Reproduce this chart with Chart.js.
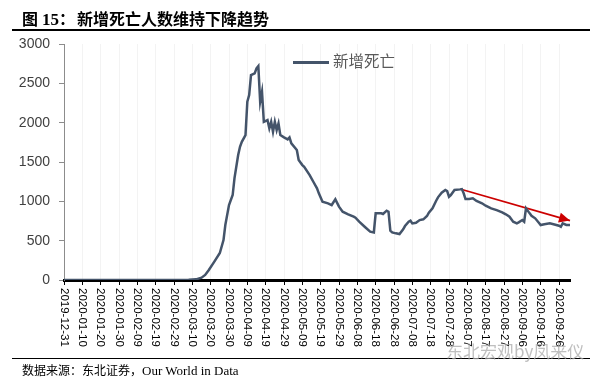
<!DOCTYPE html>
<html>
<head>
<meta charset="utf-8">
<script src="https://cdn.jsdelivr.net/npm/chart.js@4.4.1/dist/chart.umd.min.js"></script>
<style>
    body { margin: 0; background: #fff; }
    #wrap { position: relative; width: 599px; height: 383px; overflow: hidden; font-family: "Noto Sans CJK SC", sans-serif; }
    #chart { position: absolute; left: 0; top: 0; }
    .abs { position: absolute; white-space: nowrap; }
    .title { top: 9px; font-size: 16px; line-height: 18px; font-weight: 700; color: #000; }
    .title-num { font-family: "Liberation Serif", serif; font-size: 17px; }
    .rule { position: absolute; left: 12px; width: 578px; background: #000; }
    .legend { left: 293px; top: 51px; font-size: 15.5px; line-height: 18px; color: #595959; }
    .legend-line { display: inline-block; width: 36px; height: 3px; background: #44546A; vertical-align: middle; margin-right: 4px; }
    .footer { left: 22px; top: 362px; font-size: 12px; line-height: 15px; color: #000; }
    .footer .latin { font-family: "Liberation Serif", serif; font-size: 13px; }
    .mark { left: 446px; top: 341px; font-size: 17px; line-height: 20px; color: rgba(170, 170, 170, 0.75); }
</style>
</head>
<body>
<div id="wrap">
    <canvas id="chart" width="599" height="383"></canvas>
    <div class="abs title" style="left:22px">图</div>
    <div class="abs title" style="left:42px"><span class="title-num">15</span>：</div>
    <div class="abs title" style="left:77px">新增死亡人数维持下降趋势</div>
    <div class="rule" style="top:29px;height:1.5px"></div>
    <div class="abs legend" id="legend"></div>
    <div class="rule" style="top:358px;height:1px"></div>
    <div class="abs footer">数据来源：东北证券，<span class="latin">Our World in Data</span></div>
    <div class="abs mark">东北宏观by凤来仪</div>
</div>
<script>
// Axis labels (every 10 days)
const tickLabels = ['2019-12-31', '2020-01-10', '2020-01-20', '2020-01-30', '2020-02-09', '2020-02-19',
    '2020-02-29', '2020-03-10', '2020-03-20', '2020-03-30', '2020-04-09', '2020-04-19', '2020-04-29',
    '2020-05-09', '2020-05-19', '2020-05-29', '2020-06-08', '2020-06-18', '2020-06-28', '2020-07-08',
    '2020-07-18', '2020-07-28', '2020-08-07', '2020-08-17', '2020-08-27', '2020-09-06', '2020-09-16',
    '2020-09-26'];
const yTicks = [0, 500, 1000, 1500, 2000, 2500, 3000];

// New deaths (days since 2019-12-31)
const deathDays = [0, 50, 60, 68, 72, 75, 77, 79, 82, 85, 87, 88, 90, 92, 93, 95, 96, 97, 99, 100,
    101, 102, 104, 105, 106, 107, 108, 109, 111, 112, 113, 114, 115, 116, 117, 118, 120, 122, 123, 124,
    127, 128, 130, 131, 134, 136, 138, 139, 141, 144, 146, 148, 150, 152, 155, 158, 159, 161, 164, 167,
    169, 170, 173, 174, 176, 177, 178, 179, 181, 183, 185, 186, 188, 189, 190, 192, 194, 196, 198, 199,
    201, 203, 204, 206, 208, 209, 210, 211, 213, 216, 217, 218, 219, 221, 223, 225, 228, 230, 233, 236,
    239, 241, 243, 245, 247, 248, 250, 251, 252, 254, 255, 257, 259, 260, 262, 265, 267, 270, 271, 272,
    274, 276];
const deathValues = [0, 0, 1, 3, 8, 30, 64, 127, 233, 343, 508, 699, 953, 1080, 1296, 1588, 1694, 1757, 1842, 2266,
    2350, 2605, 2626, 2690, 2719, 2266, 2393, 2011, 2033, 1927, 2011, 1884, 2011, 1906, 1991, 1842, 1813, 1788, 1813, 1737,
    1652, 1525, 1461, 1440, 1334, 1249, 1165, 1102, 995, 975, 953, 1025, 932, 868, 835, 805, 792, 741, 677, 614,
    605, 847, 847, 839, 881, 868, 627, 605, 593, 584, 644, 686, 741, 754, 720, 728, 762, 771, 813, 855,
    911, 1008, 1051, 1109, 1144, 1130, 1059, 1080, 1144, 1152, 1156, 1102, 1029, 1029, 1038, 1004, 975, 944, 911, 889,
    860, 835, 805, 741, 720, 733, 762, 741, 911, 847, 817, 784, 728, 699, 708, 720, 708, 690, 677, 720,
    699, 699];

// Red trend arrow (start and end, in data units)
const arrowDays = [217, 276];
const arrowValues = [1150, 755];

const seriesName = '新增死亡';
const lineColor = '#44546A';
const arrowColor = '#CC0000';

function dayOf(label) {
    return Math.round((Date.parse(label) - Date.parse(tickLabels[0])) / 86400000);
}

function toPoints(xs, ys) {
    return xs.map((x, i) => ({ x: x, y: ys[i] }));
}

// Rotated date labels, reading top to bottom
const xLabelPlugin = {
    id: 'xLabels',
    afterDraw(chart) {
        const { ctx, chartArea } = chart;
        const x = chart.scales.x;
        ctx.save();
        ctx.font = '11.5px "Liberation Sans", Arial, sans-serif';
        ctx.fillStyle = '#000';
        ctx.textAlign = 'left';
        ctx.textBaseline = 'middle';
        tickLabels.forEach(label => {
            const px = x.getPixelForValue(dayOf(label));
            ctx.save();
            ctx.translate(px, chartArea.bottom + 8);
            ctx.rotate(Math.PI / 2);
            ctx.fillText(label, 0, 0);
            ctx.restore();
        });
        ctx.restore();
    }
};

// Arrow head at the end of the trend line
const arrowHeadPlugin = {
    id: 'arrowHead',
    afterDatasetsDraw(chart) {
        const pts = chart.getDatasetMeta(1).data;
        if (pts.length < 2) return;
        const a = pts[pts.length - 2], b = pts[pts.length - 1];
        const ang = Math.atan2(b.y - a.y, b.x - a.x);
        const len = 11, half = 5;
        const ctx = chart.ctx;
        ctx.save();
        ctx.translate(b.x, b.y);
        ctx.rotate(ang);
        ctx.beginPath();
        ctx.moveTo(0, 0);
        ctx.lineTo(-len, -half);
        ctx.lineTo(-len, half);
        ctx.closePath();
        ctx.fillStyle = arrowColor;
        ctx.fill();
        ctx.restore();
    }
};

function createChart() {
    const ctx = document.getElementById('chart').getContext('2d');
    return new Chart(ctx, {
        type: 'line',
        data: {
            datasets: [
                {
                    label: seriesName,
                    data: toPoints(deathDays, deathValues),
                    borderColor: lineColor,
                    borderWidth: 2.5,
                    pointRadius: 0,
                    tension: 0
                },
                {
                    label: 'trend',
                    data: toPoints(arrowDays, arrowValues),
                    borderColor: arrowColor,
                    borderWidth: 1.75,
                    pointRadius: 0,
                    clip: false
                }
            ]
        },
        options: {
            responsive: false,
            animation: false,
            layout: { padding: { left: 0, top: 44, right: 29, bottom: 0 } },
            plugins: {
                legend: { display: false },
                tooltip: { enabled: false }
            },
            scales: {
                x: {
                    type: 'linear',
                    min: 0,
                    max: dayOf(tickLabels[tickLabels.length - 1]) + 6,
                    afterFit: scale => { scale.height = 103; },
                    afterBuildTicks: scale => {
                        scale.ticks = tickLabels.map(l => ({ value: dayOf(l) }));
                    },
                    ticks: { display: false },
                    grid: { color: '#f3f3f3', tickColor: '#000', tickLength: 5, tickWidth: 1 },
                    border: { color: '#000', width: 3 }
                },
                y: {
                    min: 0,
                    max: 3000,
                    afterFit: scale => { scale.width = 64; },
                    afterBuildTicks: scale => {
                        scale.ticks = yTicks.map(v => ({ value: v }));
                    },
                    ticks: {
                        padding: 9,
                        color: '#404040',
                        font: { family: '"Liberation Sans", Arial, sans-serif', size: 14 },
                        callback: value => String(value)
                    },
                    grid: { drawOnChartArea: false, tickLength: 5, color: '#8c8c8c' },
                    border: { color: '#8c8c8c', width: 1 }
                }
            }
        },
        plugins: [xLabelPlugin, arrowHeadPlugin]
    });
}

function buildLegend() {
    document.getElementById('legend').innerHTML =
        '<span class="legend-line"></span>' + seriesName;
}

buildLegend();
createChart();
</script>
</body>
</html>
